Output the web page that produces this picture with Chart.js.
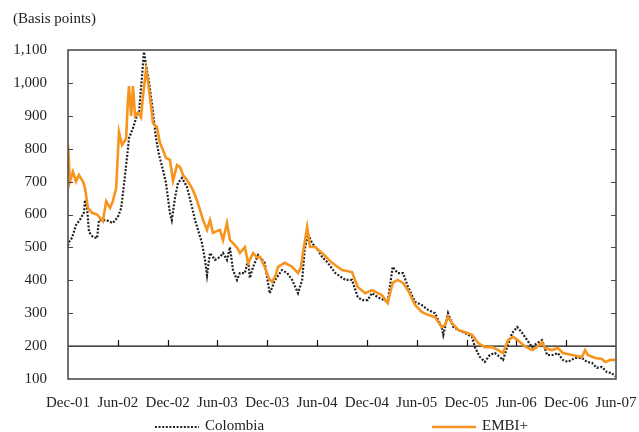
<!DOCTYPE html>
<html>
<head>
<meta charset="utf-8">
<script src="https://cdn.jsdelivr.net/npm/chart.js@4/dist/chart.umd.min.js"></script>
<style>
  html, body { margin: 0; padding: 0; background: #fff; }
  #wrap { width: 639px; height: 432px; position: relative; }
</style>
</head>
<body>
<div id="wrap"><canvas id="spreadChart" width="639" height="432"></canvas></div>
<script>
// Tick labels, one every 6 months starting Dec-01
const xLabels = ['Dec-01', 'Jun-02', 'Dec-02', 'Jun-03', 'Dec-03', 'Jun-04',
                 'Dec-04', 'Jun-05', 'Dec-05', 'Jun-06', 'Dec-06', 'Jun-07'];

// Colombia spread (months since Dec-01, basis points)
const colMonths = [0, 0.12, 0.5, 0.96, 1.57, 1.93, 2.05, 2.3, 2.53, 3.0, 3.5, 3.73, 4.6, 5.4, 6.0,
  6.4, 6.74, 7.0, 7.23, 7.35, 7.83, 8.2, 8.55, 8.9, 9.15, 9.4, 9.76, 10.24, 10.6, 10.96,
  11.44, 11.8, 12.04, 12.28, 12.5, 12.9, 13.25, 13.73, 14.33, 14.93, 15.3, 15.66, 16.14,
  16.5, 16.74, 17.1, 17.7, 18.3, 18.67, 19.15, 19.5, 19.87, 20.35, 20.7, 21.3, 21.7, 21.9,
  22.3, 22.9, 23.7, 24.3, 24.93, 25.77, 26.4, 27.0, 27.7, 28.2, 28.5, 28.9, 29.4, 30.1,
  30.6, 31.3, 32.2, 33.4, 34.2, 34.9, 35.4, 36.1, 36.6, 37.3, 38.5, 39.0, 39.1, 39.7,
  40.35, 40.95, 41.8, 42.6, 43.36, 44.2, 45.0, 45.2, 45.77, 46.4, 47.0, 47.8, 48.66, 49.0,
  49.6, 50.2, 50.8, 51.4, 52.0, 52.4, 52.9, 53.5, 54.1, 54.7, 55.3, 55.9, 56.5, 57.1,
  57.7, 58.4, 59.0, 59.6, 60.2, 61.06, 61.9, 62.5, 63.1, 63.7, 64.3, 64.9, 65.5, 65.9];
const colValues = [505, 516, 530, 568, 589, 607, 644, 619, 547, 532, 528, 583, 583, 574, 592,
  619, 690, 750, 802, 832, 863, 893, 911, 1015, 1094, 1054, 1003, 911, 832, 781,
  735, 696, 650, 604, 583, 653, 696, 711, 684, 623, 583, 553, 513,
  462, 415, 483, 462, 471, 483, 462, 501, 431, 401, 422, 422, 462, 407,
  441, 477, 453, 360, 401, 431, 422, 401, 361, 401, 492, 540, 513, 492,
  471, 453, 422, 401, 401, 349, 340, 340, 361, 349, 334, 422, 441, 422,
  422, 380, 334, 325, 310, 300, 258, 234, 300, 258, 249, 240, 228, 197,
  167, 152, 173, 179, 167, 158, 197, 240, 258, 240, 218, 197, 209, 218,
  173, 173, 179, 158, 152, 164, 164, 152, 149, 134, 137, 121, 118, 108];

// EMBI+ spread
const embiMonths = [0, 0.24, 0.6, 0.96, 1.32, 1.8, 2.05, 2.4, 2.9, 3.5, 4.2, 4.6, 5.06, 5.4,
  5.8, 6.14, 6.5, 7.0, 7.2, 7.35, 7.6, 7.83, 8.07, 8.43, 8.8, 9.03, 9.4, 9.6, 9.9, 10.24,
  10.7, 11.08, 11.44, 11.8, 12.28, 12.65, 13.13, 13.5, 13.85, 14.33, 14.7, 15.05, 15.5,
  15.9, 16.26, 16.74, 17.1, 17.46, 17.95, 18.3, 18.67, 19.15, 19.5, 19.87, 20.35, 20.7,
  21.3, 21.7, 22.3, 22.76, 23.1, 23.7, 24.2, 24.57, 24.93, 25.3, 26.1, 27.0, 27.7, 28.06,
  28.3, 28.8, 29.15, 29.75, 30.6, 31.8, 33.0, 34.2, 34.9, 35.8, 36.6, 37.8, 38.5, 39.1,
  39.7, 40.35, 40.95, 41.8, 42.6, 43.36, 44.2, 45.0, 45.4, 45.77, 46.25, 47.0, 47.8, 48.66,
  49.4, 50.2, 51.07, 51.8, 52.4, 53.0, 53.6, 54.2, 55.0, 55.9, 56.5, 57.1, 57.45, 58.3,
  59.0, 59.6, 60.7, 61.9, 62.27, 62.6, 63.5, 64.3, 64.7, 65.3, 65.9];
const embiValues = [810, 700, 730, 700, 720, 700, 680, 620, 605, 600, 580, 640, 620, 640,
  680, 851, 811, 830, 940, 990, 900, 990, 900, 910, 895, 960, 1040, 1010, 950, 878,
  866, 817, 796, 772, 766, 702, 750, 744, 720, 705, 690, 674, 645,
  614, 583, 553, 583, 544, 550, 553, 522, 574, 522, 513, 500, 483,
  501, 452, 483, 470, 471, 441, 405, 395, 410, 441, 453, 441, 422, 440,
  483, 562, 501, 501, 483, 453, 431, 425, 380, 361, 370, 355, 331, 392,
  401, 392, 370, 325, 304, 295, 288, 258, 264, 288, 270, 249, 243, 234,
  209, 197, 197, 188, 179, 218, 228, 218, 200, 188, 197, 212, 194, 188,
  194, 179, 173, 167, 188, 173, 164, 161, 152, 158, 158];

const serif = '"Liberation Serif", "Times New Roman", serif';
const axisColor = '#444';

function toPoints(xs, ys) {
    return xs.map((x, i) => ({ x: x, y: ys[i] }));
}

// Box, inward ticks, the 200 line and the legend are drawn here
const framePlugin = {
    id: 'frame',
    beforeDatasetsDraw(chart) {
        const { ctx, chartArea: a, scales: { x, y } } = chart;
        const y200 = y.getPixelForValue(200);
        ctx.save();
        ctx.strokeStyle = '#111';
        ctx.lineWidth = 1.2;
        ctx.beginPath();
        ctx.moveTo(a.left, y200);
        ctx.lineTo(a.right, y200);
        // small ticks on the 200 line, pointing up
        for (let i = 1; i < xLabels.length - 1; i++) {
            const px = Math.round(x.getPixelForValue(i * 6)) + 0.5;
            ctx.moveTo(px, y200);
            ctx.lineTo(px, y200 - 6);
        }
        ctx.stroke();
        ctx.restore();
    },
    afterDatasetsDraw(chart) {
        const { ctx, chartArea: a, scales: { y } } = chart;
        ctx.save();
        ctx.strokeStyle = axisColor;
        ctx.lineWidth = 1.5;
        ctx.strokeRect(a.left, a.top, a.right - a.left, a.bottom - a.top);
        ctx.lineWidth = 1.2;
        ctx.beginPath();
        for (let v = 200; v < 1100; v += 100) {
            const py = Math.round(y.getPixelForValue(v)) + 0.5;
            ctx.moveTo(a.left, py);
            ctx.lineTo(a.left + 5, py);
            ctx.moveTo(a.right, py);
            ctx.lineTo(a.right - 5, py);
        }
        ctx.stroke();

        // title
        ctx.fillStyle = '#222';
        ctx.font = '15px ' + serif;
        ctx.textBaseline = 'middle';
        ctx.textAlign = 'left';
        ctx.fillText('(Basis points)', 13, 19);

        // legend
        const ly = 427;
        chart.data.datasets.forEach((ds, i) => {
            const x0 = i === 0 ? 155 : 432;
            ctx.beginPath();
            ctx.strokeStyle = ds.borderColor;
            ctx.lineWidth = ds.borderWidth;
            ctx.setLineDash(ds.borderDash || []);
            ctx.moveTo(x0, ly);
            ctx.lineTo(x0 + 44, ly);
            ctx.stroke();
            ctx.setLineDash([]);
            ctx.fillStyle = '#222';
            ctx.fillText(ds.label, x0 + 50, ly - 1);
        });
        ctx.restore();
    }
};

const ctx = document.getElementById('spreadChart').getContext('2d');
const spreadChart = new Chart(ctx, {
    type: 'line',
    data: {
        datasets: [
            {
                label: 'Colombia',
                data: toPoints(colMonths, colValues),
                borderColor: '#222',
                borderWidth: 2.2,
                borderDash: [2, 1.6],
                pointRadius: 0,
                tension: 0,
                order: 1
            },
            {
                label: 'EMBI+',
                data: toPoints(embiMonths, embiValues),
                borderColor: '#F7941D',
                borderWidth: 2.6,
                pointRadius: 0,
                tension: 0,
                order: 0
            }
        ]
    },
    options: {
        responsive: false,
        animation: false,
        layout: { padding: { top: 50, right: 23, left: 0, bottom: 0 } },
        plugins: {
            legend: { display: false },
            tooltip: { enabled: false }
        },
        scales: {
            x: {
                type: 'linear',
                min: 0,
                max: 66,
                grid: { display: false, drawTicks: false },
                border: { display: false },
                afterFit: (s) => {
                    s.height = 53;
                    s.paddingLeft = 0;
                    s.paddingRight = 0;
                },
                ticks: {
                    stepSize: 6,
                    autoSkip: false,
                    maxRotation: 0,
                    padding: 15,
                    color: '#222',
                    font: { family: serif, size: 15 },
                    callback: (v) => xLabels[v / 6]
                }
            },
            y: {
                min: 100,
                max: 1100,
                grid: { display: false, drawTicks: false },
                border: { display: false },
                afterFit: (s) => {
                    s.width = 68;
                    s.paddingTop = 0;
                    s.paddingBottom = 0;
                },
                ticks: {
                    stepSize: 100,
                    padding: 21,
                    color: '#222',
                    font: { family: serif, size: 15 }
                }
            }
        }
    },
    plugins: [framePlugin]
});
</script>
</body>
</html>
